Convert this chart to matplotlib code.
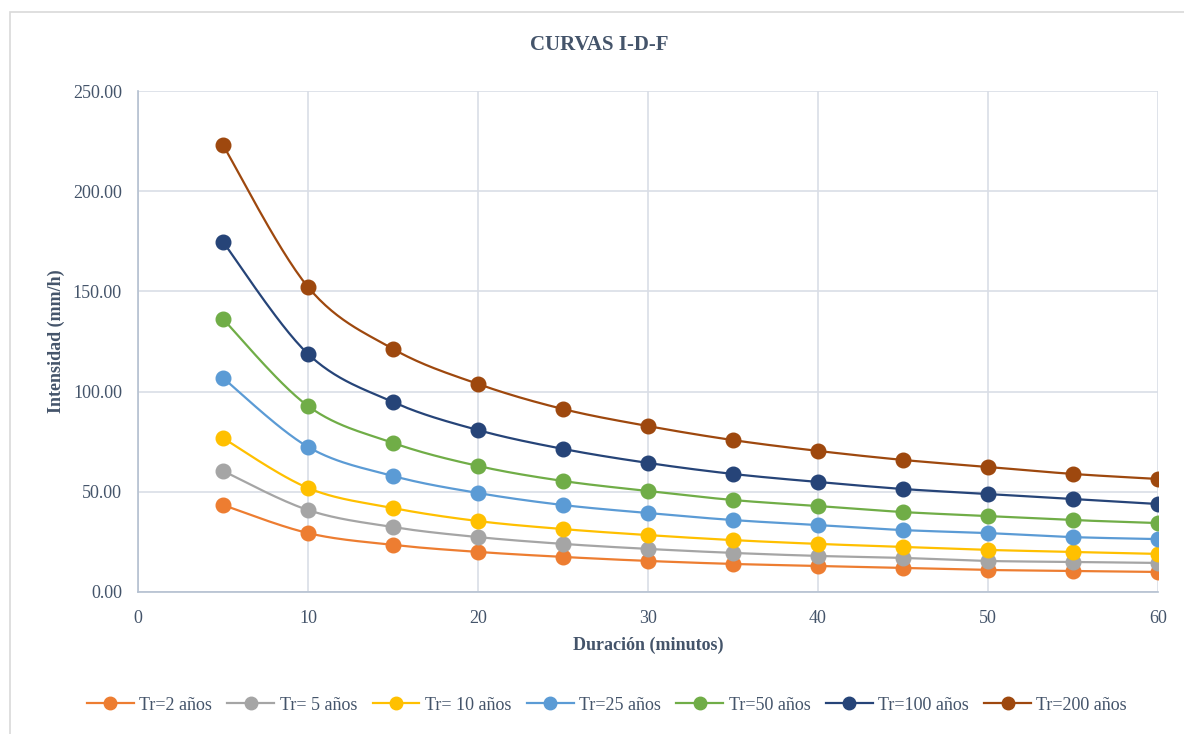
import numpy as np
import matplotlib
matplotlib.use("Agg")
import matplotlib.pyplot as plt
from matplotlib.patches import Rectangle

# duracion (min) e intensidad (mm/h) por periodo de retorno
duracion = [5, 10, 15, 20, 25, 30, 35, 40, 45, 50, 55, 60]

tr2 = [43.4, 29.4, 23.5, 20.0, 17.5, 15.5, 14.0, 13.0, 12.0, 11.0, 10.5, 10.0]
tr5 = [60.4, 40.9, 32.4, 27.4, 24.0, 21.5, 19.5, 18.0, 17.0, 15.5, 15.0, 14.5]
tr10 = [76.8, 51.9, 41.9, 35.4, 31.4, 28.4, 25.9, 24.0, 22.5, 21.0, 20.0, 19.0]
tr25 = [106.8, 72.4, 57.9, 49.4, 43.4, 39.4, 35.9, 33.4, 30.9, 29.4, 27.4, 26.4]
tr50 = [136.2, 92.8, 74.4, 62.9, 55.4, 50.4, 45.9, 42.9, 39.9, 37.9, 35.9, 34.4]
tr100 = [174.7, 118.8, 94.8, 80.8, 71.4, 64.4, 58.9, 54.9, 51.4, 48.9, 46.4, 43.9]
tr200 = [223.0, 152.2, 121.3, 103.8, 91.3, 82.8, 75.8, 70.4, 65.9, 62.4, 58.9, 56.4]

series = [tr2, tr5, tr10, tr25, tr50, tr100, tr200]
labels = ["Tr=2 años", "Tr= 5 años", "Tr= 10 años", "Tr=25 años",
          "Tr=50 años", "Tr=100 años", "Tr=200 años"]
colors = ["#ED7D31", "#A5A5A5", "#FFC000", "#5B9BD5",
          "#70AD47", "#264478", "#9E480E"]

xticks = [0, 10, 20, 30, 40, 50, 60]
yticks = [0, 50, 100, 150, 200, 250]


def smooth(x, y, n=30):
    # curva suavizada tipo excel (bezier con puntos de control catmull-rom)
    p = np.column_stack([x, y]).astype(float)
    pp = np.vstack([p[0], p, p[-1]])
    out = []
    t = np.linspace(0, 1, n)[:, None]
    for i in range(len(p) - 1):
        p0, p1, p2, p3 = pp[i], pp[i + 1], pp[i + 2], pp[i + 3]
        c1 = p1 + (p2 - p0) / 6.0
        c2 = p2 - (p3 - p1) / 6.0
        seg = ((1 - t) ** 3) * p1 + 3 * ((1 - t) ** 2) * t * c1 \
            + 3 * (1 - t) * t ** 2 * c2 + t ** 3 * p2
        out.append(seg if i == 0 else seg[1:])
    out = np.vstack(out)
    return out[:, 0], out[:, 1]


plt.rcParams['font.family'] = ['Liberation Serif', 'DejaVu Serif']
txt = "#44546A"
grid = "#D9DEE6"

fig = plt.figure(figsize=(11.84, 7.34), dpi=100)
fig.patches.append(Rectangle((10 / 1184, -0.01), 1.2, 1 - 12 / 734 + 0.01,
                             transform=fig.transFigure, fill=False,
                             edgecolor="#D9D9D9", linewidth=1.2))
ax = fig.add_axes([138 / 1184, 1 - 592 / 734, (1158 - 138) / 1184, (592 - 91) / 734])

for y, lab, c in zip(series, labels, colors):
    sx, sy = smooth(duracion, y)
    ax.plot(sx, sy, color=c, linewidth=1.6, zorder=3)
    ax.plot(duracion, y, linestyle="none", marker="o", markersize=10.5,
            markerfacecolor=c, markeredgecolor=c, zorder=4)
    ax.plot([], [], color=c, linewidth=1.6, marker="o", markersize=9,
            markerfacecolor=c, markeredgecolor=c, label=lab)

ax.set_xlim(0, 60)
ax.set_ylim(0, 250)
ax.set_xticks(xticks)
ax.set_yticks(yticks)
ax.set_yticklabels(["%.2f" % v for v in yticks])
ax.grid(True, color=grid, linewidth=1.2, zorder=0)
ax.set_axisbelow(True)
for s in ["top", "right"]:
    ax.spines[s].set_visible(False)
for s in ["left", "bottom"]:
    ax.spines[s].set_color("#B4C0D0")
    ax.spines[s].set_linewidth(1.2)
ax.tick_params(length=0, labelsize=13, colors=txt)
ax.tick_params(axis="x", pad=13)
ax.tick_params(axis="y", pad=11.5)

fig.text(599 / 1184, 1 - 45 / 734, "CURVAS I-D-F", fontsize=15, fontweight="bold",
         color=txt, ha="center", va="center")
ax.set_xlabel("Duración (minutos)", fontsize=13, fontweight="bold", color=txt, labelpad=7)
ax.set_ylabel("Intensidad (mm/h)", fontsize=13, fontweight="bold", color=txt, labelpad=6)

fig.legend(loc="center", bbox_to_anchor=(607 / 1184, 1 - 705 / 734), ncol=7, frameon=False,
           fontsize=13, labelcolor=txt, handlelength=2.6, columnspacing=0.85,
           handletextpad=0.3)

fig.savefig("out.png", dpi=100)
